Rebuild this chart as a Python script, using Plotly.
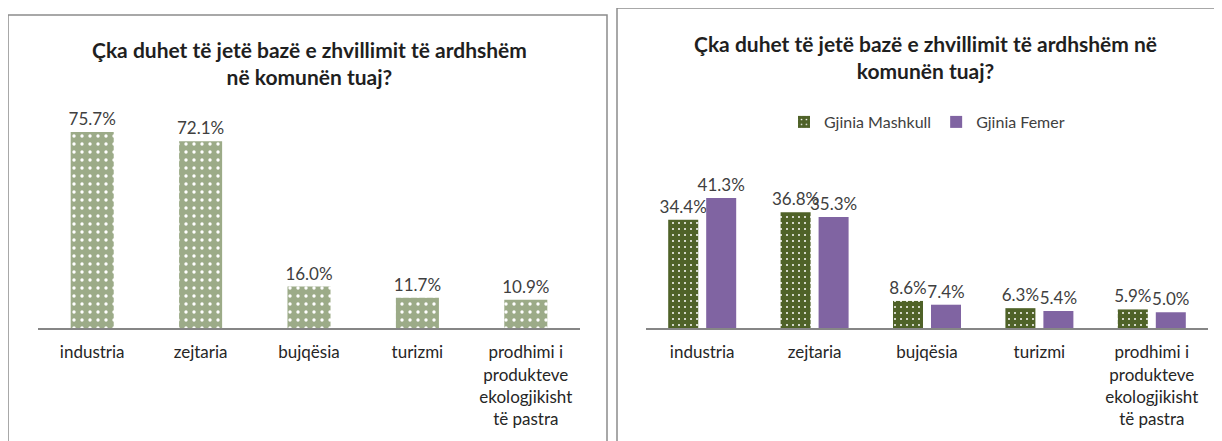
import plotly.graph_objects as go

# ---- data ----
categories = ["industria", "zejtaria", "bujqësia", "turizmi",
              "prodhimi i<br>produkteve<br>ekologjikisht<br>të pastra"]
total_values = [75.7, 72.1, 16.0, 11.7, 10.9]
male_values = [34.4, 36.8, 8.6, 6.3, 5.9]
female_values = [41.3, 35.3, 7.4, 5.4, 5.0]
title_left = "Çka duhet të jetë bazë e zhvillimit të ardhshëm<br>në komunën tuaj?"
title_right = "Çka duhet të jetë bazë e zhvillimit të ardhshëm në<br>komunën tuaj?"
series_names = ["Gjinia Mashkull", "Gjinia Femer"]

W, H = 1222, 441
OFF = 8  # page body margin
FONT = "Lato"
TXT = "#404040"

def px_x(p):
    return (p - OFF) / W

def px_y(p):
    return 1 - (p - OFF) / H

fig = go.Figure()

fig.add_trace(go.Bar(
    x=categories, y=total_values, xaxis="x", yaxis="y",
    width=0.397, showlegend=False,
    marker=dict(color="#a0ad8d", line=dict(width=0),
                pattern=dict(shape=".", bgcolor="#9cab88", fgcolor="#ffffff",
                             size=8, solidity=0.14, fillmode="replace")),
    texttemplate="%{y:.1f}%", textposition="outside", constraintext="none",
    cliponaxis=False, textfont=dict(family=FONT, size=17, color=TXT),
))

fig.add_trace(go.Bar(
    x=categories, y=male_values, xaxis="x2", yaxis="y2", name=series_names[0],
    marker=dict(color="#4f6228", line=dict(width=0),
                pattern=dict(shape=".", bgcolor="#4f6228", fgcolor="#ffffff",
                             size=6, solidity=0.09, fillmode="replace")),
    texttemplate="%{y:.1f}%", textposition="outside", constraintext="none",
    cliponaxis=False, textfont=dict(family=FONT, size=17, color=TXT),
))
fig.add_trace(go.Bar(
    x=categories, y=female_values, xaxis="x2", yaxis="y2", name=series_names[1],
    marker=dict(color="#8064a2", line=dict(width=0)),
    texttemplate="%{y:.1f}%", textposition="outside", constraintext="none",
    cliponaxis=False, textfont=dict(family=FONT, size=17, color=TXT),
))

# axis geometry (reference pixels)
base_px = 328
left_top_px = 100
right_top_px = 160
left_scale = (base_px - 132) / 75.7
right_scale = (base_px - 198) / 41.3
left_max = (base_px - left_top_px) / left_scale
right_max = (base_px - right_top_px) / right_scale

xcommon = dict(type="category", showline=True, linecolor="#868686", linewidth=2,
               ticks="", showgrid=False, zeroline=False, ticklabelstandoff=8,
               tickfont=dict(family=FONT, size=17, color="#262626"))
ycommon = dict(showgrid=False, zeroline=False, showticklabels=False, showline=False)

fig.update_layout(
    width=W, height=H, margin=dict(l=0, r=0, t=0, b=0),
    paper_bgcolor="white", plot_bgcolor="white",
    barmode="group", bargap=0.324, bargroupgap=0.21,
    xaxis=dict(domain=[px_x(38), px_x(580)], anchor="y", **xcommon),
    yaxis=dict(domain=[px_y(base_px), px_y(left_top_px)], range=[0, left_max],
               anchor="x", **ycommon),
    xaxis2=dict(domain=[px_x(646), px_x(1208)], anchor="y2", **xcommon),
    yaxis2=dict(domain=[px_y(base_px), px_y(right_top_px)], range=[0, right_max],
                anchor="x2", **ycommon),
    legend=dict(orientation="h", x=px_x(927), xanchor="center", y=px_y(122),
                yanchor="middle", font=dict(family=FONT, size=16, color=TXT),
                itemwidth=30, tracegroupgap=0, bgcolor="rgba(0,0,0,0)"),
    font=dict(family=FONT),
    showlegend=True,
)

fig.add_annotation(text="<b>" + title_left + "</b>", xref="paper", yref="paper",
                   x=px_x(309), y=px_y(63), xanchor="center", yanchor="middle",
                   showarrow=False, font=dict(family=FONT, size=21, color="#1f1f1f"))
fig.add_annotation(text="<b>" + title_right + "</b>", xref="paper", yref="paper",
                   x=px_x(925), y=px_y(57), xanchor="center", yanchor="middle",
                   showarrow=False, font=dict(family=FONT, size=21, color="#1f1f1f"))

# chart borders
fig.add_shape(type="rect", xref="paper", yref="paper",
              x0=px_x(8), x1=px_x(607), y0=px_y(460), y1=px_y(15),
              line=dict(color="#8c8c8c", width=1.5))
fig.add_shape(type="rect", xref="paper", yref="paper",
              x0=px_x(617), x1=px_x(1215), y0=px_y(460), y1=px_y(8),
              line=dict(color="#8c8c8c", width=1.5))

fig.write_html("out.html")
